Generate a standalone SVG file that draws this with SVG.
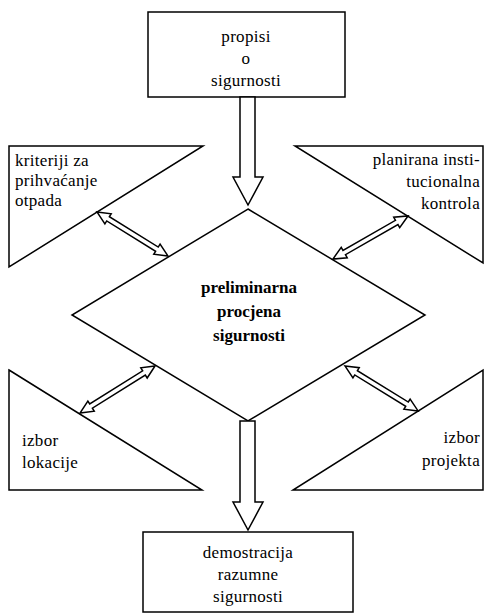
<svg xmlns="http://www.w3.org/2000/svg" width="486" height="615" viewBox="0 0 486 615" font-family="'Liberation Serif', 'Times New Roman', 'DejaVu Serif', serif">
<style>
.s{fill:#fff;stroke:#000;stroke-width:1.5;stroke-linejoin:miter}
text{font-family:'Liberation Serif','Times New Roman','DejaVu Serif',serif;font-size:17px;letter-spacing:0.3px;fill:#000}
.c{text-anchor:middle}
.e{text-anchor:end}
.b{font-weight:bold;font-size:17px;letter-spacing:0}
</style>
<rect width="486" height="615" fill="#fff"/>
<g id="propisi">
<rect class="s" x="148" y="12" width="197" height="85"/>
<text class="c" x="246" y="42">propisi</text>
<text class="c" x="246" y="64">o</text>
<text class="c" x="246" y="86">sigurnosti</text>
</g>
<g id="kriteriji">
<polygon class="s" points="9,146 203,146 9,267"/>
<text x="15" y="166">kriteriji za</text>
<text x="15" y="186">prihvaćanje</text>
<text x="15" y="206">otpada</text>
</g>
<g id="kontrola">
<polygon class="s" points="295,146 483,146 483,263"/>
<text class="e" x="480" y="165">planirana insti-</text>
<text class="e" x="480" y="187">tucionalna</text>
<text class="e" x="480" y="209">kontrola</text>
</g>
<g id="procjena">
<polygon class="s" points="248,209 425,315 248,421 72,315"/>
<text class="c b" x="249" y="293">preliminarna</text>
<text class="c b" x="249" y="317">procjena</text>
<text class="c b" x="249" y="341">sigurnosti</text>
</g>
<g id="lokacija">
<polygon class="s" points="9,370 202,490 9,490"/>
<text x="22" y="446">izbor</text>
<text x="22" y="468">lokacije</text>
</g>
<g id="projekt">
<polygon class="s" points="483,370 483,490 293,490"/>
<text class="e" x="480" y="443">izbor</text>
<text class="e" x="480" y="466">projekta</text>
</g>
<g id="demonstracija">
<rect class="s" x="143" y="532" width="210" height="80"/>
<text class="c" x="248" y="558">demostracija</text>
<text class="c" x="248" y="580">razumne</text>
<text class="c" x="248" y="602">sigurnosti</text>
</g>
<g id="connectors">
<polygon class="s" points="240,97 255,97 255,177 263,177 248,205 233,177 240,177"/>
<polygon class="s" points="240,421 255,421 255,502 263,502 248,530 233,502 240,502"/>
<g transform="translate(97,212) rotate(31.8)"><polygon class="s" points="0,0 13,-6 13,-2.5 70.5,-2.5 70.5,-6 83.5,0 70.5,6 70.5,2.5 13,2.5 13,6"/></g>
<g transform="translate(408,216) rotate(150.2)"><polygon class="s" points="0,0 13,-6 13,-2.5 73.5,-2.5 73.5,-6 86.5,0 73.5,6 73.5,2.5 13,2.5 13,6"/></g>
<g transform="translate(155,366) rotate(147.9)"><polygon class="s" points="0,0 13,-6 13,-2.5 75.5,-2.5 75.5,-6 88.5,0 75.5,6 75.5,2.5 13,2.5 13,6"/></g>
<g transform="translate(345,366) rotate(31.6)"><polygon class="s" points="0,0 13,-6 13,-2.5 72.8,-2.5 72.8,-6 85.8,0 72.8,6 72.8,2.5 13,2.5 13,6"/></g>
</g>
</svg>
